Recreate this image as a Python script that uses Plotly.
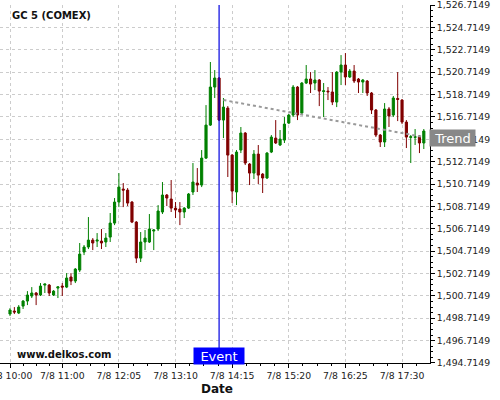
import plotly.graph_objects as go
import pandas as pd

# ---- data ----
bar_times = pd.date_range("2019-07-08 10:00", periods=96, freq="5min")

open_ = [1499.09, 1499.36, 1499.18, 1499.80, 1500.25, 1500.70, 1500.97, 1500.79, 1501.68, 1501.68,
         1500.79, 1501.41, 1501.59, 1501.50, 1502.40, 1502.04, 1503.02, 1504.63, 1505.08, 1505.70,
         1505.61, 1505.61, 1505.53, 1505.97, 1507.22, 1509.10, 1510.26, 1510.17, 1509.10, 1507.31,
         1504.09, 1505.53, 1505.53, 1506.51, 1506.69, 1508.21, 1509.73, 1509.37, 1508.56, 1508.48,
         1508.21, 1508.56, 1510.00, 1510.80, 1510.62, 1513.03, 1515.98, 1519.38, 1520.19, 1516.43,
         1517.50, 1513.30, 1510.00, 1513.75, 1515.27, 1512.50, 1511.69, 1513.39, 1511.60, 1511.25,
         1513.57, 1514.82, 1514.20, 1514.64, 1516.16, 1516.88, 1519.38, 1517.06, 1519.74, 1520.10,
         1519.74, 1520.01, 1518.98, 1519.02, 1518.94, 1518.04, 1520.72, 1521.35, 1520.28, 1520.81,
         1520.10, 1519.83, 1519.92, 1518.85, 1517.33, 1515.09, 1514.47, 1517.42, 1516.88, 1518.36,
         1518.22, 1516.25, 1514.88, 1514.88, 1515.00, 1514.38]
high = [1499.62, 1499.71, 1499.89, 1500.34, 1501.14, 1501.50, 1501.06, 1501.86, 1501.80, 1501.77,
        1501.23, 1501.55, 1501.86, 1502.75, 1502.75, 1503.20, 1505.44, 1505.26, 1507.76, 1505.88,
        1506.33, 1506.69, 1506.33, 1508.12, 1509.46, 1511.69, 1510.80, 1510.35, 1509.19, 1507.40,
        1506.42, 1506.60, 1508.03, 1506.69, 1508.83, 1510.89, 1509.82, 1511.07, 1509.10, 1509.10,
        1508.65, 1509.91, 1512.59, 1512.14, 1513.75, 1517.77, 1521.62, 1520.90, 1520.28, 1518.40,
        1517.68, 1513.39, 1513.75, 1515.81, 1515.36, 1512.59, 1513.75, 1514.20, 1511.69, 1513.57,
        1515.09, 1516.43, 1515.54, 1516.70, 1516.97, 1519.56, 1519.47, 1519.83, 1521.35, 1520.72,
        1520.90, 1520.10, 1519.74, 1519.38, 1520.72, 1520.81, 1522.24, 1522.42, 1520.99, 1521.35,
        1520.19, 1520.10, 1520.01, 1518.94, 1517.42, 1515.18, 1517.95, 1517.59, 1518.58, 1520.72,
        1518.31, 1516.43, 1515.09, 1515.63, 1515.09, 1515.63]
low = [1498.91, 1499.09, 1499.09, 1499.54, 1499.89, 1500.52, 1499.89, 1500.70, 1500.97, 1500.70,
       1500.70, 1500.52, 1500.70, 1501.41, 1501.68, 1501.86, 1502.84, 1504.36, 1504.90, 1504.81,
       1505.08, 1504.90, 1505.08, 1505.53, 1507.04, 1508.65, 1508.65, 1508.74, 1507.22, 1503.65,
       1503.74, 1504.81, 1505.44, 1504.81, 1506.51, 1508.03, 1508.74, 1508.21, 1507.67, 1507.04,
       1507.67, 1508.48, 1509.73, 1510.00, 1510.44, 1512.95, 1515.90, 1518.40, 1516.34, 1514.82,
       1511.34, 1509.01, 1508.83, 1513.48, 1512.41, 1510.62, 1511.16, 1510.71, 1509.91, 1511.16,
       1513.48, 1514.29, 1514.11, 1514.38, 1516.07, 1516.70, 1516.43, 1516.88, 1519.65, 1518.85,
       1519.11, 1517.68, 1516.70, 1518.22, 1517.77, 1517.59, 1519.56, 1519.56, 1520.19, 1519.74,
       1518.85, 1518.85, 1518.58, 1516.97, 1514.91, 1514.02, 1514.02, 1515.81, 1516.70, 1516.34,
       1516.07, 1513.93, 1512.59, 1514.20, 1513.48, 1513.84]
close = [1499.45, 1499.27, 1499.71, 1500.25, 1500.79, 1500.97, 1500.79, 1501.59, 1501.77, 1500.97,
         1501.14, 1501.52, 1501.50, 1502.31, 1502.04, 1503.11, 1504.45, 1505.08, 1505.70, 1505.44,
         1505.70, 1505.44, 1505.88, 1507.22, 1509.10, 1510.44, 1510.17, 1509.01, 1507.31, 1504.09,
         1505.53, 1505.88, 1506.69, 1506.60, 1508.30, 1509.73, 1509.46, 1508.56, 1508.39, 1508.21,
         1508.56, 1509.82, 1510.89, 1510.62, 1513.03, 1515.98, 1519.38, 1520.19, 1516.43, 1517.59,
         1513.30, 1510.08, 1513.57, 1515.27, 1512.59, 1511.69, 1513.39, 1511.51, 1511.25, 1513.48,
         1514.91, 1514.38, 1514.73, 1516.07, 1516.88, 1519.38, 1516.88, 1519.74, 1520.10, 1519.65,
         1520.01, 1519.02, 1519.04, 1518.96, 1518.04, 1520.72, 1521.35, 1520.28, 1520.81, 1519.92,
         1519.83, 1520.01, 1518.85, 1517.33, 1515.09, 1514.47, 1517.42, 1516.79, 1518.40, 1518.28,
         1516.25, 1514.91, 1514.94, 1514.94, 1514.38, 1515.45]

event_time = "2019-07-08 14:00"
trend_times = ["2019-07-08 14:05", "2019-07-08 17:55"]
trend_values = [1518.22, 1514.91]

x_tick_times = ["2019-07-08 10:00", "2019-07-08 11:00", "2019-07-08 12:05", "2019-07-08 13:10",
                "2019-07-08 14:15", "2019-07-08 15:20", "2019-07-08 16:25", "2019-07-08 17:30"]
x_tick_labels = ["7/8 10:00", "7/8 11:00", "7/8 12:05", "7/8 13:10",
                 "7/8 14:15", "7/8 15:20", "7/8 16:25", "7/8 17:30"]
y_tick_values = [1494.7149, 1496.7149, 1498.7149, 1500.7149, 1502.7149, 1504.7149, 1506.7149,
                 1508.7149, 1510.7149, 1512.7149, 1514.7149, 1516.7149, 1518.7149, 1520.7149,
                 1522.7149, 1524.7149, 1526.7149]
y_tick_labels = ["1,494.7149", "1,496.7149", "1,498.7149", "1,500.7149", "1,502.7149", "1,504.7149",
                 "1,506.7149", "1,508.7149", "1,510.7149", "1,512.7149", "1,514.7149", "1,516.7149",
                 "1,518.7149", "1,520.7149", "1,522.7149", "1,524.7149", "1,526.7149"]
y_min, y_max = y_tick_values[0], y_tick_values[-1]

# minor x ticks: quarter points between major ticks
tt = pd.to_datetime(x_tick_times)
minor_x = []
for a, b in zip(tt[:-1], tt[1:]):
    for k in (1, 2, 3):
        minor_x.append(a + (b - a) * k / 4)
minor_x.append(tt[-1] + (tt[-1] - tt[-2]) / 4)

FONT = "DejaVu Sans"
GREEN = "#008000"
RED = "#800000"

fig = go.Figure()
fig.add_trace(go.Candlestick(
    x=bar_times, open=open_, high=high, low=low, close=close,
    increasing=dict(line=dict(color=GREEN, width=1), fillcolor=GREEN),
    decreasing=dict(line=dict(color=RED, width=1), fillcolor=RED),
    whiskerwidth=0, hoverinfo="skip", showlegend=False,
))
fig.add_trace(go.Scatter(
    x=trend_times, y=trend_values, mode="lines",
    line=dict(color="#999999", width=2, dash="dot"),
    hoverinfo="skip", showlegend=False,
))

fig.add_shape(type="line", xref="x", yref="paper", x0=event_time, x1=event_time,
              y0=0, y1=1, line=dict(color="#0000e0", width=1.2))

fig.add_annotation(x=event_time, xref="x", y=0.0196, yref="paper", text="Event",
                   showarrow=False, bgcolor="#0000ff", font=dict(color="white", size=13, family=FONT),
                   width=50, height=16, borderpad=0, xanchor="center", yanchor="middle")
fig.add_annotation(x=1.052, xref="paper", y=1514.85, yref="y", text="Trend",
                   showarrow=False, bgcolor="#888888", font=dict(color="white", size=13, family=FONT),
                   width=45, height=16, borderpad=0, xanchor="center", yanchor="middle")
fig.add_annotation(x=0.0233, xref="paper", y=0.972, yref="paper", text="<b>GC 5 (COMEX)</b>",
                   showarrow=False, font=dict(color="#111", size=10, family=FONT),
                   xanchor="left", yanchor="middle")
fig.add_annotation(x=0.035, xref="paper", y=0.025, yref="paper", text="<b>www.delkos.com</b>",
                   showarrow=False, font=dict(color="#111", size=10, family=FONT),
                   xanchor="left", yanchor="middle")
fig.add_annotation(x=0.5047, xref="paper", y=-0.0726, yref="paper", text="<b>Date</b>",
                   showarrow=False, font=dict(color="#111", size=12, family=FONT),
                   xanchor="center", yanchor="middle")

fig.update_layout(
    width=500, height=400,
    margin=dict(l=0, r=70, t=5, b=37, autoexpand=False),
    paper_bgcolor="white", plot_bgcolor="white",
    font=dict(family=FONT, size=9.3, color="#222"),
    showlegend=False,
    xaxis=dict(
        type="date", rangeslider=dict(visible=False), automargin=False,
        range=["2019-07-08 09:48:31", "2019-07-08 18:02:06"],
        tickmode="array", tickvals=x_tick_times, ticktext=x_tick_labels,
        ticks="outside", ticklen=4, tickcolor="black", ticklabeloverflow="allow",
        showline=True, linecolor="black", linewidth=1,
        showgrid=True, gridcolor="#cccccc", griddash="3px,3px", gridwidth=1,
        zeroline=False,
        minor=dict(tickmode="array", tickvals=minor_x, ticks="outside", ticklen=2,
                   tickcolor="black", showgrid=False),
    ),
    yaxis=dict(
        side="right", range=[y_min - 0.002, y_max + 0.002], automargin=False,
        tickmode="array", tickvals=y_tick_values, ticktext=y_tick_labels,
        ticks="outside", ticklen=4, tickcolor="black", ticklabeloverflow="allow",
        showline=True, linecolor="black", linewidth=1,
        showgrid=True, gridcolor="#cccccc", griddash="3px,3px", gridwidth=1,
        zeroline=False,
        minor=dict(tickmode="linear", dtick=0.5, tick0=y_min, ticks="outside", ticklen=2,
                   tickcolor="black", showgrid=False),
    ),
)

fig.write_html("out.html", config={"displayModeBar": False},
               post_script="document.body.style.margin='0';")
